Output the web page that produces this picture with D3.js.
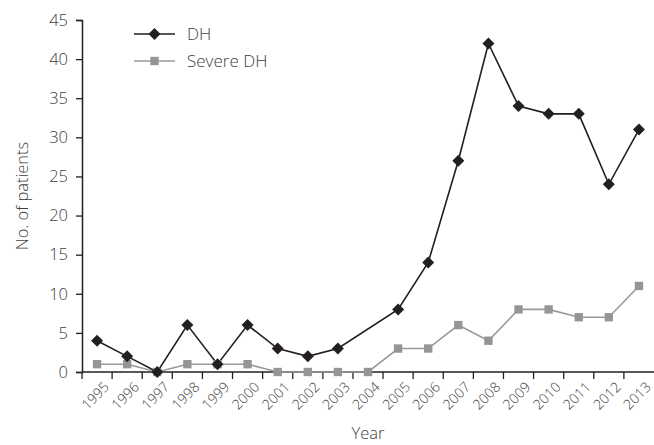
<!DOCTYPE html>
<html>
<head>
<meta charset="utf-8">
<script src="https://cdn.jsdelivr.net/npm/d3@7"></script>
<style>
  body { margin: 0; background: #fff; }
  text { font-family: "Open Sans", "Liberation Sans", sans-serif; font-weight: 300; }
</style>
</head>
<body>
<div class="chart"></div>
<script>
// data
var years = ["1995", "1996", "1997", "1998", "1999", "2000", "2001", "2002", "2003", "2004",
  "2005", "2006", "2007", "2008", "2009", "2010", "2011", "2012", "2013"];
var dhValues = [4, 2, 0, 6, 1, 6, 3, 2, 3, null, 8, 14, 27, 42, 34, 33, 33, 24, 31];
var severeValues = [1, 1, 0, 1, 1, 1, 0, 0, 0, 0, 3, 3, 6, 4, 8, 8, 7, 7, 11];
var yTicks = [0, 5, 10, 15, 20, 25, 30, 35, 40, 45];
var seriesNames = ["DH", "Severe DH"];

var svgWidth = 654;
var svgHeight = 445;
var textColor = "#404040";

var margin = { top: 20, right: 0, bottom: 73, left: 82 };
var width = svgWidth - margin.left - margin.right;
var height = svgHeight - margin.top - margin.bottom;

var svg = d3.select(".chart")
  .append("svg")
  .attr("width", svgWidth)
  .attr("height", svgHeight);

var chartGroup = svg.append("g")
  .attr("transform", `translate(${margin.left}, ${margin.top})`);

// scales
var xBandScale = d3.scaleBand().domain(years).range([0, width]);
var yLinearScale = d3.scaleLinear().domain([0, 45]).range([height, 0]);
var xCenter = (y) => xBandScale(y) + xBandScale.bandwidth() / 2;

// y axis
var yAxis = d3.axisLeft(yLinearScale).tickValues(yTicks).tickSize(6).tickPadding(8);
var yG = chartGroup.append("g").call(yAxis);
yG.select(".domain").attr("stroke", "#231f20").attr("stroke-width", 1.5);
yG.selectAll(".tick line").attr("stroke", "#231f20").attr("stroke-width", 1.3);
yG.selectAll(".tick text")
  .style("font-size", "16.5px")
  .style("font-family", "'Open Sans', sans-serif")
  .attr("fill", textColor);

// x axis: ticks sit between the bands
var xG = chartGroup.append("g").attr("transform", `translate(0, ${height})`);
xG.append("line")
  .attr("x1", 0).attr("x2", width)
  .attr("stroke", "#231f20").attr("stroke-width", 1.5);
xG.selectAll(".xtick")
  .data(years)
  .enter()
  .append("line")
  .attr("x1", (d) => xBandScale(d))
  .attr("x2", (d) => xBandScale(d))
  .attr("y1", 0).attr("y2", 7)
  .attr("stroke", "#231f20").attr("stroke-width", 1.3);
xG.selectAll(".xlabel")
  .data(years)
  .enter()
  .append("text")
  .attr("transform", (d) => `translate(${xCenter(d) + 6}, 9) rotate(-45)`)
  .attr("text-anchor", "end")
  .attr("dy", "0.7em")
  .attr("fill", textColor)
  .style("font-size", "14px")
  .text((d) => d);

// axis titles
svg.append("text")
  .attr("transform", `translate(28, ${margin.top + height / 2}) rotate(-90)`)
  .attr("text-anchor", "middle")
  .attr("fill", textColor)
  .style("font-size", "16.5px")
  .text("No. of patients");

svg.append("text")
  .attr("x", 368)
  .attr("y", 439)
  .attr("text-anchor", "middle")
  .attr("fill", textColor)
  .style("font-size", "16.5px")
  .text("Year");

// lines
var dhData = years.map((y, i) => ({ year: y, value: dhValues[i] })).filter((d) => d.value !== null);
var severeData = years.map((y, i) => ({ year: y, value: severeValues[i] }));

var line = d3.line()
  .x((d) => xCenter(d.year))
  .y((d) => yLinearScale(d.value));

chartGroup.append("path")
  .datum(severeData)
  .attr("d", line)
  .attr("fill", "none")
  .attr("stroke", "#9a9a9a")
  .attr("stroke-width", 1.6);

chartGroup.append("path")
  .datum(dhData)
  .attr("d", line)
  .attr("fill", "none")
  .attr("stroke", "#231f20")
  .attr("stroke-width", 1.6);

var square = d3.symbol().type(d3.symbolSquare).size(70);
var diamond = "M0,-6L6,0L0,6L-6,0Z";

chartGroup.selectAll(".sq")
  .data(severeData)
  .enter()
  .append("path")
  .attr("d", square)
  .attr("transform", (d) => `translate(${xCenter(d.year)}, ${yLinearScale(d.value)})`)
  .attr("fill", "#959595");

chartGroup.selectAll(".dm")
  .data(dhData)
  .enter()
  .append("path")
  .attr("d", diamond)
  .attr("transform", (d) => `translate(${xCenter(d.year)}, ${yLinearScale(d.value)})`)
  .attr("fill", "#231f20");

// legend
var legend = svg.append("g").attr("transform", "translate(134, 34)");
seriesNames.forEach(function (name, i) {
  var g = legend.append("g").attr("transform", `translate(0, ${i * 27})`);
  g.append("line")
    .attr("x1", 0).attr("x2", 41)
    .attr("stroke", i === 0 ? "#231f20" : "#9a9a9a")
    .attr("stroke-width", 1.6);
  g.append("path")
    .attr("d", i === 0 ? diamond : square)
    .attr("transform", "translate(20.5, 0)")
    .attr("fill", i === 0 ? "#231f20" : "#959595");
  g.append("text")
    .attr("x", 53)
    .attr("dy", "0.35em")
    .attr("fill", textColor)
    .style("font-size", "17px")
    .text(name);
});
</script>
</body>
</html>
